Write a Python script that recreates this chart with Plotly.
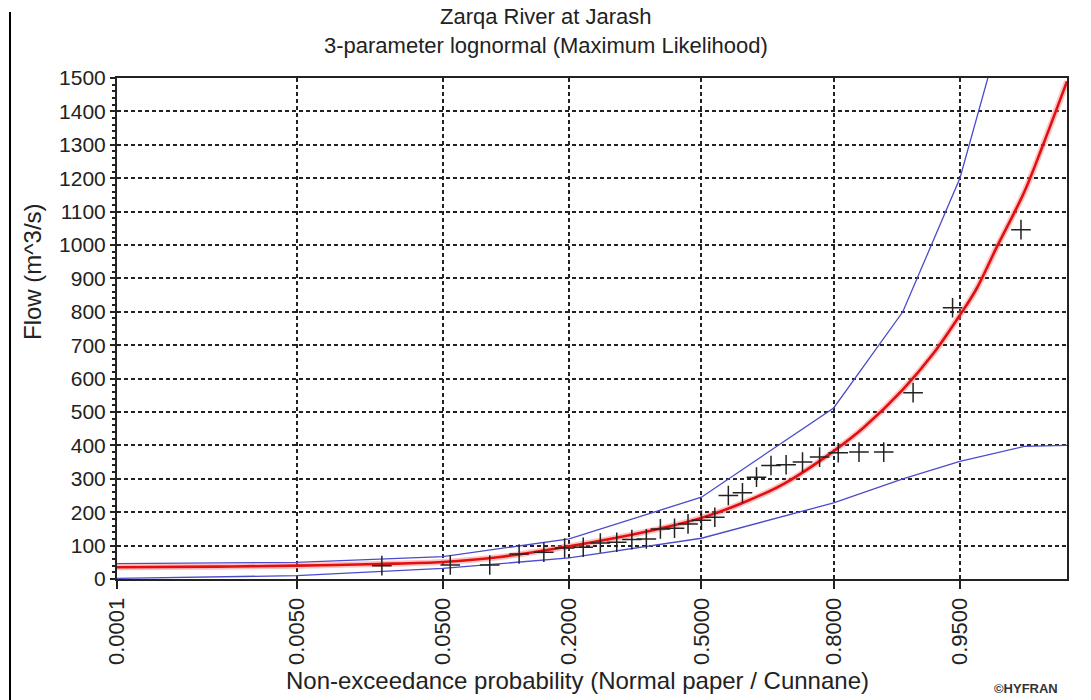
from statistics import NormalDist
import plotly.graph_objects as go

# ---------------- data ----------------
title_line1 = "Zarqa River at Jarash"
title_line2 = "3-parameter lognormal (Maximum Likelihood)"
x_title = "Non-exceedance probability (Normal paper / Cunnane)"
y_title = "Flow (m^3/s)"
credit = "\u00a9HYFRAN"

tick_probs = [0.0001, 0.005, 0.05, 0.2, 0.5, 0.8, 0.95]
tick_labels = ["0.0001", "0.0050", "0.0500", "0.2000", "0.5000", "0.8000", "0.9500"]
prob_range = [0.0001, 0.99]
y_range = [0, 1500]

# observed flows (Cunnane plotting positions)
obs_prob = [0.021, 0.055, 0.089, 0.123, 0.158, 0.192, 0.226, 0.260, 0.295, 0.329,
            0.363, 0.397, 0.432, 0.466, 0.500, 0.534, 0.568, 0.603, 0.637, 0.671,
            0.705, 0.740, 0.774, 0.808, 0.842, 0.877, 0.911, 0.945, 0.979]
obs_flow = [40, 42, 42, 75, 80, 93, 95, 108, 110, 118,
            120, 150, 152, 165, 176, 185, 250, 258, 305, 340,
            342, 350, 365, 378, 380, 380, 558, 812, 1046]

# fitted 3-parameter lognormal quantiles
fit_prob = [0.0001, 0.001, 0.005, 0.01, 0.02, 0.05, 0.1, 0.2, 0.3, 0.4, 0.5, 0.6,
            0.7, 0.8, 0.85, 0.9, 0.93, 0.95, 0.96, 0.97, 0.98, 0.985, 0.99]
fit_flow = [35, 37, 40, 42, 45, 51, 66, 98, 125, 152, 183, 226,
            285, 383, 455, 567, 675, 790, 869, 995, 1158, 1295, 1490]

# confidence interval bounds
ci_prob = [0.0001, 0.005, 0.05, 0.2, 0.5, 0.8, 0.9, 0.95, 0.98, 0.99]
ci_upper = [46, 50, 67, 120, 245, 512, 800, 1200, 1890, 2400]
ci_lower = [2, 10, 32, 63, 122, 228, 300, 352, 397, 400]

# ---------------- figure ----------------
nd = NormalDist()
z = lambda ps: [nd.inv_cdf(p) for p in ps]

FONT = "Arial, Liberation Sans, sans-serif"
INK = "#222"
BLUE = "rgb(75,75,205)"
fig = go.Figure()

fig.add_trace(go.Scatter(x=z(ci_prob), y=ci_upper, mode="lines",
                         line=dict(color=BLUE, width=1.3), hoverinfo="skip"))
fig.add_trace(go.Scatter(x=z(ci_prob), y=ci_lower, mode="lines",
                         line=dict(color=BLUE, width=1.3), hoverinfo="skip"))
fig.add_trace(go.Scatter(x=z(fit_prob), y=fit_flow, mode="lines",
                         line=dict(color="rgba(255,120,120,0.45)", width=6, shape="spline"),
                         hoverinfo="skip"))
fig.add_trace(go.Scatter(x=z(fit_prob), y=fit_flow, mode="lines",
                         line=dict(color="rgb(225,15,15)", width=2.6, shape="spline")))
fig.add_trace(go.Scatter(x=z(obs_prob), y=obs_flow, mode="markers",
                         marker=dict(symbol="cross-thin", size=14,
                                     line=dict(color=INK, width=1.5))))

fig.update_layout(
    width=1091, height=700,
    margin=dict(l=117, r=24, t=78, b=121),
    paper_bgcolor="white", plot_bgcolor="white",
    showlegend=False,
    font=dict(family=FONT, color=INK),
)

fig.update_xaxes(
    range=z(prob_range), tickvals=z(tick_probs), ticktext=tick_labels,
    tickangle=-90, tickfont=dict(size=22, family=FONT, color=INK),
    ticks="outside", ticklen=8, tickwidth=1.5, tickcolor=INK,
    showgrid=True, gridcolor=INK, griddash="4px,3px", gridwidth=1.8,
    showline=True, linecolor=INK, linewidth=2, mirror=True,
    zeroline=False, automargin=False,
)
fig.update_yaxes(
    range=y_range, dtick=100, tickfont=dict(size=21, family=FONT, color=INK),
    ticks="outside", ticklen=5, tickwidth=1.5, tickcolor=INK,
    minor=dict(dtick=20, ticks="outside", ticklen=3, tickcolor=INK, showgrid=False),
    showgrid=True, gridcolor=INK, griddash="4px,3px", gridwidth=1.8,
    showline=True, linecolor=INK, linewidth=2, mirror=True,
    zeroline=False, automargin=False,
)

def px_x(px):
    return (px - 117) / 950

def px_y(px):
    return (579 - px) / 501

fig.add_annotation(text=title_line1, xref="paper", yref="paper", x=px_x(545.5), y=px_y(17),
                   xanchor="center", yanchor="middle", showarrow=False,
                   font=dict(size=22, family=FONT, color=INK))
fig.add_annotation(text=title_line2, xref="paper", yref="paper", x=px_x(545.5), y=px_y(45),
                   xanchor="center", yanchor="middle", showarrow=False,
                   font=dict(size=22, family=FONT, color=INK))
fig.add_annotation(text=x_title, xref="paper", yref="paper", x=px_x(577), y=px_y(680),
                   xanchor="center", yanchor="middle", showarrow=False,
                   font=dict(size=24, family=FONT, color=INK))
fig.add_annotation(text=y_title, xref="paper", yref="paper", x=px_x(32), y=px_y(272),
                   textangle=-90, xanchor="center", yanchor="middle", showarrow=False,
                   font=dict(size=24, family=FONT, color=INK))
fig.add_annotation(text="<b>" + credit + "</b>", xref="paper", yref="paper",
                   x=px_x(1026), y=px_y(688), xanchor="center", yanchor="middle",
                   showarrow=False, font=dict(size=13, family=FONT, color="#333"))
fig.add_shape(type="line", xref="paper", yref="paper",
              x0=px_x(10), x1=px_x(10), y0=px_y(12), y1=px_y(700),
              line=dict(color="black", width=2))

fig.write_html("out.html", config={"displayModeBar": False},
               post_script="document.body.style.margin='0px';document.body.style.overflow='hidden';")
